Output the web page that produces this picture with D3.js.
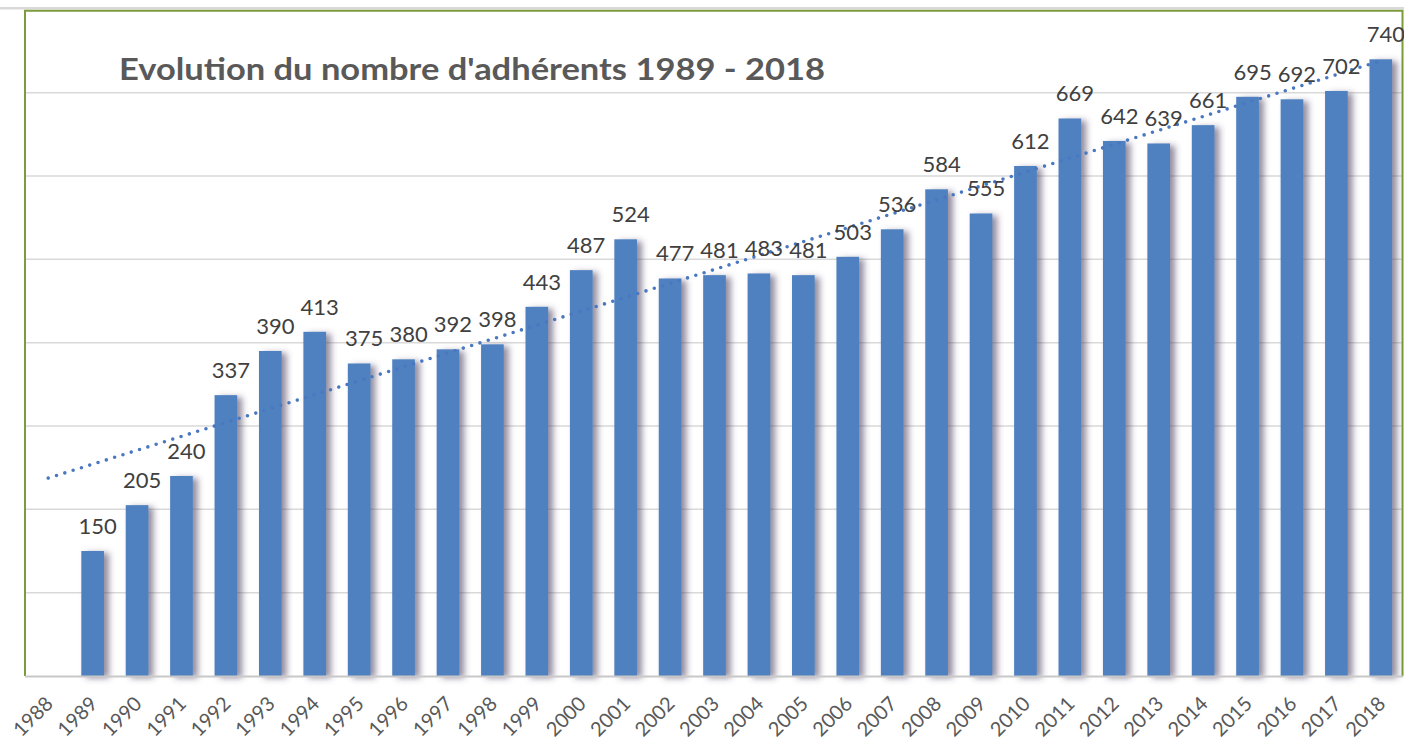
<!DOCTYPE html>
<html>
<head>
<meta charset="utf-8">
<script src="https://cdn.jsdelivr.net/npm/d3@7"></script>
<style>
  body { margin: 0; background: #fff; }
  svg { display: block; }
</style>
</head>
<body>
<div class="chart"></div>
<script>
const years = ["1988", "1989", "1990", "1991", "1992", "1993", "1994", "1995", "1996", "1997",
    "1998", "1999", "2000", "2001", "2002", "2003", "2004", "2005", "2006", "2007",
    "2008", "2009", "2010", "2011", "2012", "2013", "2014", "2015", "2016", "2017", "2018"];
// 1988 has no value (empty category on the axis)
const members = [null, 150, 205, 240, 337, 390, 413, 375, 380, 392,
    398, 443, 487, 524, 477, 481, 483, 481, 503, 536,
    584, 555, 612, 669, 642, 639, 661, 695, 692, 702, 740];
const gridValues = [100, 200, 300, 400, 500, 600, 700];
const title = "Evolution du nombre d'adhérents 1989 - 2018";

const w = 1404;
const h = 744;
const plotLeft = 26, plotRight = 1403, plotTop = 9.3, plotBottom = 676;

const svg = d3.select(".chart")
    .append("svg")
    .attr("width", w)
    .attr("height", h);

svg.append("rect").attr("width", w).attr("height", h).attr("fill", "#fff");

const defs = svg.append("defs");
const shadow = defs.append("filter")
    .attr("id", "shadow")
    .attr("x", "-50%").attr("y", "-10%")
    .attr("width", "200%").attr("height", "120%");
shadow.append("feDropShadow")
    .attr("dx", 5).attr("dy", 2)
    .attr("stdDeviation", 3.2)
    .attr("flood-color", "#4d4160")
    .attr("flood-opacity", 0.6);

const x = d3.scaleBand()
    .domain(years)
    .range([plotLeft, plotRight])
    .paddingInner(0.49)
    .paddingOuter(0.245);

const y = d3.scaleLinear()
    .domain([0, 800])
    .range([plotBottom, plotTop]);

// gridlines
svg.append("g")
    .selectAll("line")
    .data(gridValues)
    .enter()
    .append("line")
    .attr("x1", plotLeft).attr("x2", plotRight)
    .attr("y1", d => y(d)).attr("y2", d => y(d))
    .attr("stroke", "#d9d9d9")
    .attr("stroke-width", 1.5);

// top gridline (800) runs across the whole picture
svg.append("line")
    .attr("x1", 0).attr("x2", w)
    .attr("y1", y(800) - 1).attr("y2", y(800) - 1)
    .attr("stroke", "#d9d9d9")
    .attr("stroke-width", 2.5);

// green frame
svg.append("path")
    .attr("d", `M${plotLeft - 1},${plotBottom} V${y(800) + 1.5} H${plotRight - 0.5} V${plotBottom}`)
    .attr("fill", "none")
    .attr("stroke", "#7b9b3c")
    .attr("stroke-width", 2);

// bars
const idx = d3.range(years.length).filter(i => members[i] != null);
svg.append("g")
    .selectAll("rect")
    .data(idx)
    .enter()
    .append("rect")
    .attr("x", i => x(years[i]))
    .attr("y", i => y(members[i]))
    .attr("width", x.bandwidth())
    .attr("height", i => y(0) - y(members[i]))
    .attr("fill", "#4f81c0")
    .attr("filter", "url(#shadow)");

// baseline
svg.append("line")
    .attr("x1", plotLeft - 1).attr("x2", plotRight)
    .attr("y1", plotBottom + 0.5).attr("y2", plotBottom + 0.5)
    .attr("stroke", "#c8c8c8")
    .attr("stroke-width", 2);

// linear trendline (least squares over the years with data, extended to 1988)
const xs = idx;
const ys = idx.map(i => members[i]);
const mx = d3.mean(xs), my = d3.mean(ys);
const slope = d3.sum(xs, (v, k) => (v - mx) * (ys[k] - my)) / d3.sum(xs, v => (v - mx) * (v - mx));
const icpt = my - slope * mx;
const trend = [0, years.length - 1].map(i => [x(years[i]) + x.bandwidth() / 2, y(icpt + slope * i)]);

svg.append("path")
    .attr("d", d3.line()(trend))
    .attr("fill", "none")
    .attr("stroke", "#4a78c0")
    .attr("stroke-width", 3.6)
    .attr("stroke-linecap", "round")
    .attr("stroke-dasharray", "0 8.7");

// value labels
svg.append("g")
    .selectAll("text")
    .data(idx)
    .enter()
    .append("text")
    .attr("x", i => x(years[i]) + x.bandwidth() / 2 + 5)
    .attr("y", i => y(members[i]) - 17)
    .attr("text-anchor", "middle")
    .attr("font-family", "Lato, 'Open Sans', sans-serif")
    .attr("font-size", 22)
    .attr("fill", "#404040")
    .text(i => members[i]);

// x axis labels
svg.append("g")
    .selectAll("text")
    .data(years)
    .enter()
    .append("text")
    .attr("transform", d => `translate(${x(d) + x.bandwidth() / 2 + 6},${plotBottom + 29}) rotate(-45)`)
    .attr("text-anchor", "end")
    .attr("font-family", "Lato, 'Open Sans', sans-serif")
    .attr("font-size", 20)
    .attr("fill", "#595959")
    .text(d => d);

// title
svg.append("text")
    .attr("x", 119)
    .attr("y", 80)
    .attr("font-family", "Lato, 'Open Sans', sans-serif")
    .attr("font-weight", "bold")
    .attr("font-size", 31)
    .attr("fill", "#595959")
    .attr("textLength", 706)
    .attr("lengthAdjust", "spacingAndGlyphs")
    .text(title);
</script>
</body>
</html>
